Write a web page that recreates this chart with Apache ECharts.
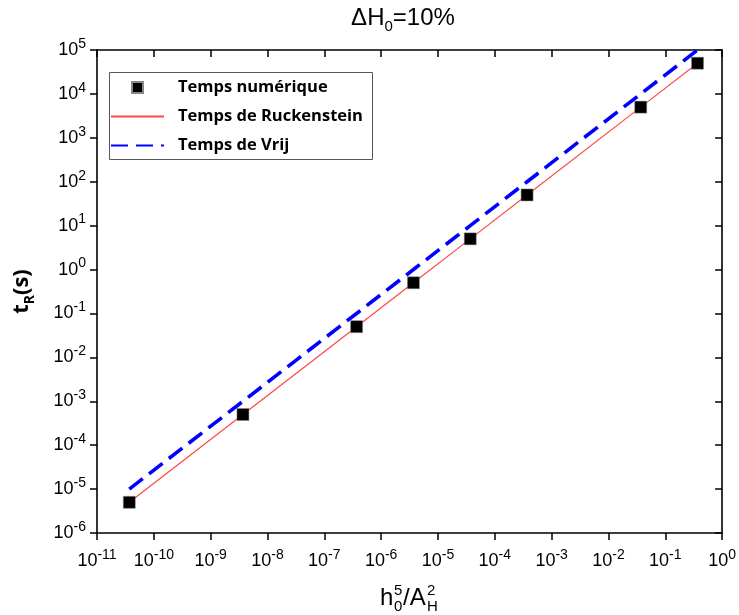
<!DOCTYPE html>
<html><head><meta charset="utf-8">
<script src="https://cdn.jsdelivr.net/npm/echarts@6/dist/echarts.min.js"></script>
<style>html,body{margin:0;padding:0;background:#fff}#c{width:739px;height:615px}</style>
</head><body><div id="c"></div>
<script>
// ---- data ----
const xValues      = [3.7e-11, 3.7e-9, 3.7e-7, 3.7e-6, 3.7e-5, 3.7e-4, 3.7e-2, 3.7e-1];
const tNumerique   = [5e-6, 5e-4, 5e-2, 5e-1, 5, 50, 5e3, 5e4];
const tRuckenstein = [5e-6, 5e-4, 5e-2, 5e-1, 5, 50, 5e3, 5e4];
const tVrij        = [1e-5, 1e-3, 1e-1, 1, 10, 100, 1e4, 1e5];
const xTickExps    = [-11, -10, -9, -8, -7, -6, -5, -4, -3, -2, -1, 0];
const yTickExps    = [-6, -5, -4, -3, -2, -1, 0, 1, 2, 3, 4, 5];
const seriesNames  = ['Temps numérique', 'Temps de Ruckenstein', 'Temps de Vrij'];

const pairs = (xs, ys) => xs.map((x, i) => [x, ys[i]]);
const labelFmt = v => {
  const e = Math.round(Math.log10(v));
  return '{b|10}{s|' + e + '}';
};
const tickRich = {
  b: { fontFamily: 'Liberation Sans', fontSize: 18, color: '#000', lineHeight: 26 },
  s: { fontFamily: 'Liberation Sans', fontSize: 14, color: '#000', lineHeight: 15, verticalAlign: 'top' }
};
const axisLine = { show: true, lineStyle: { color: '#000', width: 1.6 } };
const tickOut = { show: true, length: 7, lineStyle: { color: '#000', width: 1.5 } };
const tickIn = { show: true, inside: true, length: 7, lineStyle: { color: '#000', width: 1.5 } };

const xMin = Math.pow(10, xTickExps[0]), xMax = Math.pow(10, xTickExps[xTickExps.length - 1]);
const yMin = Math.pow(10, yTickExps[0]), yMax = Math.pow(10, yTickExps[yTickExps.length - 1]);

const chart = echarts.init(document.getElementById('c'), null, { renderer: 'canvas' });
chart.setOption({
  animation: false,
  backgroundColor: '#fff',
  grid: { left: 97, right: 16, top: 50, bottom: 82, containLabel: false },
  xAxis: [
    { type: 'log', logBase: 10, min: xMin, max: xMax, interval: 1, splitNumber: 11,
      axisLine, axisTick: tickOut, splitLine: { show: false }, minorTick: { show: false },
      axisLabel: { formatter: labelFmt, rich: tickRich, margin: 15 } },
    { type: 'log', logBase: 10, min: xMin, max: xMax, interval: 1, splitNumber: 11, position: 'top',
      axisLine, axisTick: tickIn, splitLine: { show: false }, axisLabel: { show: false } }
  ],
  yAxis: [
    { type: 'log', logBase: 10, min: yMin, max: yMax, interval: 1, splitNumber: 11,
      axisLine, axisTick: tickOut, splitLine: { show: false }, minorTick: { show: false },
      axisLabel: { formatter: labelFmt, rich: tickRich, margin: 11 },
      name: '{t|t}{r|R}{t|(s)}', nameLocation: 'middle', nameRotate: 90, nameGap: 60,
      nameTextStyle: { rich: {
        t: { fontFamily: 'Open Sans', fontWeight: 'bold', fontSize: 22, color: '#000', lineHeight: 30 },
        r: { fontFamily: 'Open Sans', fontWeight: 'bold', fontSize: 14, color: '#000', lineHeight: 17, verticalAlign: 'bottom' }
      } } },
    { type: 'log', logBase: 10, min: yMin, max: yMax, interval: 1, splitNumber: 11, position: 'right',
      axisLine, axisTick: tickIn, splitLine: { show: false }, axisLabel: { show: false } }
  ],
  legend: {
    orient: 'vertical', left: 107, top: 70, padding: [9, 8, 7, 3],
    itemWidth: 53, itemHeight: 11, itemGap: 12, symbolKeepAspect: true,
    data: [
      { name: seriesNames[0], icon: 'path://M0,0L10,0L10,10L0,10Z', itemStyle: { opacity: 1 } },
      { name: seriesNames[1], itemStyle: { opacity: 0 } },
      { name: seriesNames[2], itemStyle: { opacity: 0 } }
    ],
    textStyle: { fontFamily: 'Open Sans', fontWeight: 'bold', fontSize: 16.5, color: '#000', padding: [0, 0, 0, 9] }
  },
  graphic: [
    { type: 'rect', left: 107, top: 70, z: 0, shape: { width: 263, height: 87 },
      style: { fill: 'none', stroke: '#555', lineWidth: 1 } },
    { type: 'text', x: 403, y: 18, z: 10,
      style: { text: '{a|ΔH}{b|0}{a|=10%}', align: 'center', verticalAlign: 'middle',
        rich: { a: { fontFamily: 'Liberation Sans', fontSize: 24, color: '#000', lineHeight: 32 },
                b: { fontFamily: 'Liberation Sans', fontSize: 15, color: '#000', lineHeight: 17, verticalAlign: 'bottom' } } } },
    { type: 'group', x: 380, y: 598, z: 10, children: [
      { type: 'text', x: 0, y: 0, style: { text: 'h', fontFamily: 'Liberation Sans', fontSize: 24, fill: '#000', verticalAlign: 'middle' } },
      { type: 'text', x: 14, y: -7, style: { text: '5', fontFamily: 'Liberation Sans', fontSize: 15, fill: '#000', verticalAlign: 'middle' } },
      { type: 'text', x: 14, y: 9, style: { text: '0', fontFamily: 'Liberation Sans', fontSize: 15, fill: '#000', verticalAlign: 'middle' } },
      { type: 'text', x: 23, y: 0, style: { text: '/A', fontFamily: 'Liberation Sans', fontSize: 24, fill: '#000', verticalAlign: 'middle' } },
      { type: 'text', x: 47, y: -7, style: { text: '2', fontFamily: 'Liberation Sans', fontSize: 15, fill: '#000', verticalAlign: 'middle' } },
      { type: 'text', x: 47, y: 9, style: { text: 'H', fontFamily: 'Liberation Sans', fontSize: 15, fill: '#000', verticalAlign: 'middle' } }
    ] }
  ],
  series: [
    { name: seriesNames[0], type: 'scatter', data: pairs(xValues, tNumerique), z: 5,
      symbol: 'rect', symbolSize: 12,
      itemStyle: { color: '#000', opacity: 1, borderColor: '#888', borderWidth: 0.5 } },
    { name: seriesNames[1], type: 'line', data: pairs(xValues, tRuckenstein), z: 3,
      symbol: 'none', showSymbol: false,
      lineStyle: { color: '#ff4646', width: 1.2 }, itemStyle: { color: '#ff4646' } },
    { name: seriesNames[2], type: 'line', data: pairs(xValues, tVrij), z: 2,
      symbol: 'none', showSymbol: false,
      lineStyle: { color: '#0000ff', width: 3.6, type: [17, 8] }, itemStyle: { color: '#0000ff' } }
  ]
});
</script></body></html>
